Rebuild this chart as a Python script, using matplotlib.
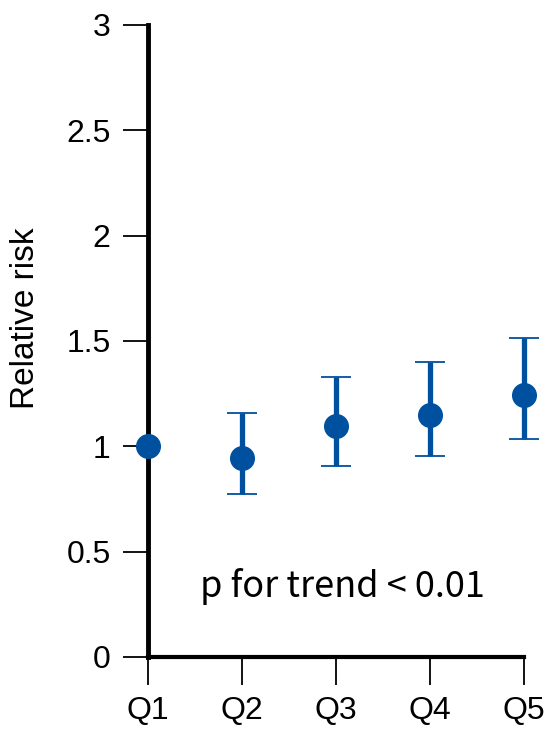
import matplotlib
matplotlib.use("Agg")
import matplotlib.pyplot as plt

# data
quintiles = ["Q1", "Q2", "Q3", "Q4", "Q5"]
rr = [1.0, 0.943, 1.095, 1.147, 1.246]
ci_low = [1.0, 0.772, 0.905, 0.953, 1.033]
ci_high = [1.0, 1.156, 1.327, 1.398, 1.512]

blue = "#0050a0"
plt.rcParams["font.family"] = ["Liberation Sans", "DejaVu Sans"]

fig = plt.figure(figsize=(5.51, 7.30), dpi=100)
ax = fig.add_axes([148 / 551, 1 - 657 / 730, (524 - 148) / 551, (657 - 25) / 730])

x = list(range(len(quintiles)))
yerr = [[r - lo for r, lo in zip(rr, ci_low)], [hi - r for r, hi in zip(rr, ci_high)]]

# thick bars without caps, then thin caps on top
ax.errorbar(x, rr, yerr=yerr, fmt="none", ecolor=blue, elinewidth=3.8, capsize=0, clip_on=False, zorder=3)
ax.errorbar(x[1:], rr[1:], yerr=[yerr[0][1:], yerr[1][1:]], fmt="none", ecolor=blue,
            elinewidth=0, capsize=10.5, capthick=1.3, clip_on=False, zorder=3)
ax.plot(x, rr, "o", color=blue, markersize=17, clip_on=False, zorder=4)

ax.set_xlim(0, 4)
ax.set_ylim(0, 3)
ax.set_xticks(x)
ax.set_xticklabels(quintiles)
ax.set_yticks([0, 0.5, 1, 1.5, 2, 2.5, 3])
ax.set_yticklabels(["0", "0.5", "1", "1.5", "2", "2.5", "3"])

for s in ["top", "right"]:
    ax.spines[s].set_visible(False)
ax.spines["left"].set_linewidth(3.5)
ax.spines["bottom"].set_linewidth(3)
ax.tick_params(axis="y", length=18, width=1.3, labelsize=23, pad=9)
ax.tick_params(axis="x", length=20, width=1.3, labelsize=23, pad=8)

fig.text(26 / 551, 1 - 318 / 730, "Relative risk", rotation=90, fontsize=24,
         ha="center", va="center")

ax.text(2.07, 0.335, "p for trend < 0.01", fontsize=26, ha="center", va="center",
        family=["Noto Sans CJK JP", "DejaVu Sans"])

fig.savefig("out.png", dpi=100)
